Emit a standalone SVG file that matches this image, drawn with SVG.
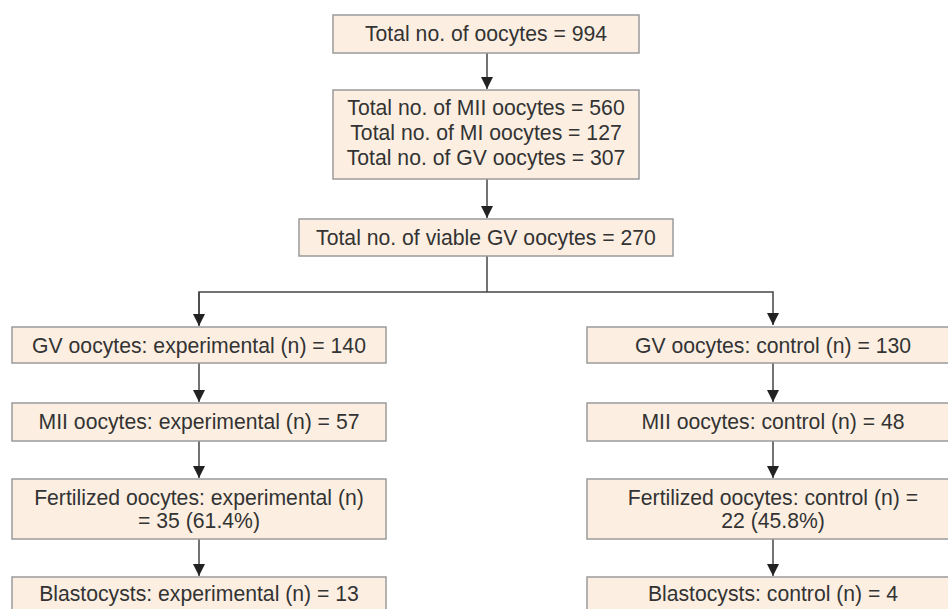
<svg xmlns="http://www.w3.org/2000/svg" width="948" height="609" viewBox="0 0 948 609">
<style>
.box{fill:#fcefe2;stroke:#9a9a9a;stroke-width:1.5}
.t{font-family:"Liberation Sans",Arial,sans-serif;font-size:21.2px;fill:#333;text-anchor:middle}
.ln{fill:none;stroke:#444;stroke-width:1.5}
</style>
<defs>
<marker id="ah" viewBox="0 0 12 12" refX="12" refY="6" markerWidth="12" markerHeight="12" markerUnits="userSpaceOnUse" orient="auto">
<path d="M0,0 L12,6 L0,12 Z" fill="#222"/>
</marker>
</defs>
<rect width="948" height="609" fill="#fff"/>
<g id="connectors">
<line class="ln" x1="487" y1="53" x2="487" y2="89" marker-end="url(#ah)"/>
<line class="ln" x1="487" y1="179" x2="487" y2="218" marker-end="url(#ah)"/>
<line class="ln" x1="487" y1="256" x2="487" y2="292"/>
<polyline class="ln" points="199,325 199,292 773,292 773,325" marker-end="url(#ah)"/>
<line class="ln" x1="199" y1="292" x2="199" y2="326" marker-end="url(#ah)"/>
<line class="ln" x1="199" y1="363" x2="199" y2="402" marker-end="url(#ah)"/>
<line class="ln" x1="199" y1="441" x2="199" y2="478" marker-end="url(#ah)"/>
<line class="ln" x1="199" y1="539" x2="199" y2="576" marker-end="url(#ah)"/>
<line class="ln" x1="773" y1="363" x2="773" y2="402" marker-end="url(#ah)"/>
<line class="ln" x1="773" y1="441" x2="773" y2="478" marker-end="url(#ah)"/>
<line class="ln" x1="773" y1="539" x2="773" y2="576" marker-end="url(#ah)"/>
</g>
<g id="n_total">
<rect class="box" x="333" y="15" width="306" height="38"/>
<text class="t" x="486" y="41">Total no. of oocytes = 994</text>
</g>
<g id="n_stages">
<rect class="box" x="333" y="90" width="306" height="89"/>
<text class="t" x="486" y="115">Total no. of MII oocytes = 560</text>
<text class="t" x="486" y="140">Total no. of MI oocytes = 127</text>
<text class="t" x="486" y="165">Total no. of GV oocytes = 307</text>
</g>
<g id="n_viable">
<rect class="box" x="299" y="219" width="374" height="37"/>
<text class="t" x="486" y="245">Total no. of viable GV oocytes = 270</text>
</g>
<g id="n_gv_exp">
<rect class="box" x="12" y="327" width="374" height="36"/>
<text class="t" x="199" y="353">GV oocytes: experimental (n) = 140</text>
</g>
<g id="n_mii_exp">
<rect class="box" x="12" y="403" width="374" height="38"/>
<text class="t" x="199" y="429">MII oocytes: experimental (n) = 57</text>
</g>
<g id="n_fert_exp">
<rect class="box" x="12" y="479" width="374" height="60"/>
<text class="t" x="199" y="505">Fertilized oocytes: experimental (n)</text>
<text class="t" x="199" y="528">= 35 (61.4%)</text>
</g>
<g id="n_blast_exp">
<rect class="box" x="12" y="577" width="374" height="38"/>
<text class="t" x="199" y="601">Blastocysts: experimental (n) = 13</text>
</g>
<g id="n_gv_ctrl">
<rect class="box" x="587" y="327" width="374" height="36"/>
<text class="t" x="773" y="353">GV oocytes: control (n) = 130</text>
</g>
<g id="n_mii_ctrl">
<rect class="box" x="587" y="403" width="374" height="38"/>
<text class="t" x="773" y="429">MII oocytes: control (n) = 48</text>
</g>
<g id="n_fert_ctrl">
<rect class="box" x="587" y="479" width="374" height="60"/>
<text class="t" x="773" y="505">Fertilized oocytes: control (n) =</text>
<text class="t" x="773" y="528">22 (45.8%)</text>
</g>
<g id="n_blast_ctrl">
<rect class="box" x="587" y="577" width="374" height="38"/>
<text class="t" x="773" y="601">Blastocysts: control (n) = 4</text>
</g>
</svg>
